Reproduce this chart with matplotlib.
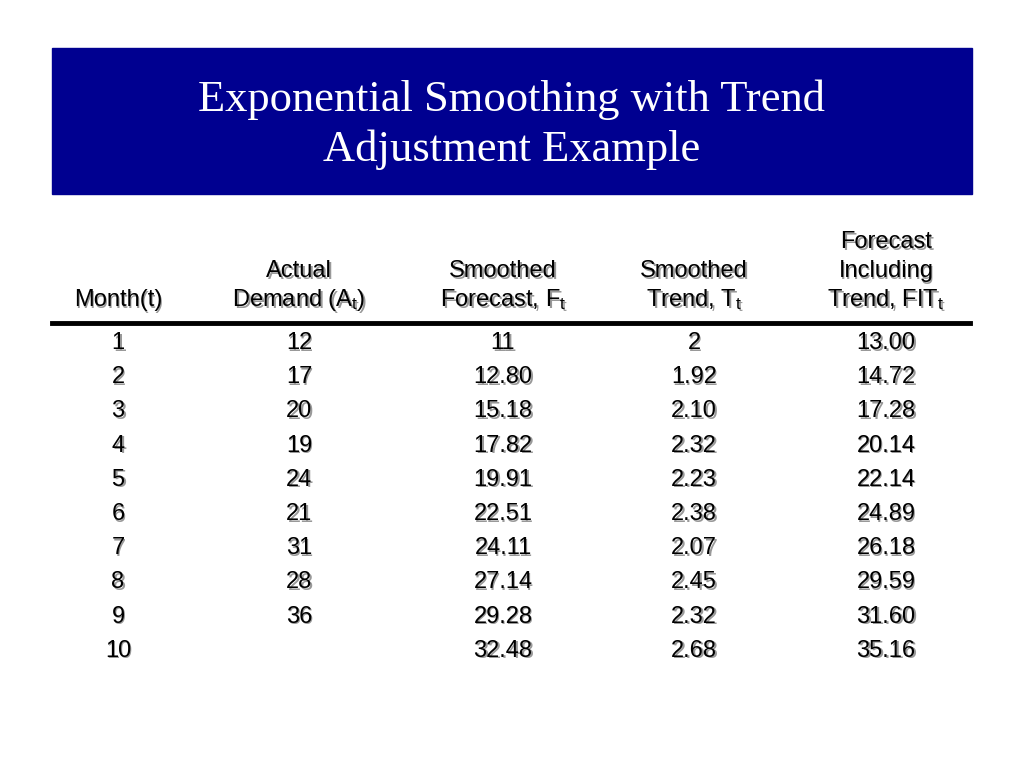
import matplotlib
matplotlib.use("Agg")
import matplotlib.pyplot as plt
from matplotlib import transforms

plt.rcParams["mathtext.fontset"] = "custom"
plt.rcParams["mathtext.rm"] = "Liberation Sans"
plt.rcParams["mathtext.it"] = "Liberation Sans"

title = "Exponential Smoothing with Trend\nAdjustment Example"
headers = [
    ["Month(t)"],
    ["Actual", r"Demand (A$_\mathregular{t}$)"],
    ["Smoothed", r"Forecast, F$_\mathregular{t}$"],
    ["Smoothed", r"Trend, T$_\mathregular{t}$"],
    ["Forecast", "Including", r"Trend, FIT$_\mathregular{t}$"],
]
month = ["1", "2", "3", "4", "5", "6", "7", "8", "9", "10"]
demand = ["12", "17", "20", "19", "24", "21", "31", "28", "36", ""]
forecast = ["11", "12.80", "15.18", "17.82", "19.91", "22.51", "24.11", "27.14", "29.28", "32.48"]
trend = ["2", "1.92", "2.10", "2.32", "2.23", "2.38", "2.07", "2.45", "2.32", "2.68"]
fit = ["13.00", "14.72", "17.28", "20.14", "22.14", "24.89", "26.18", "29.59", "31.60", "35.16"]
columns = [month, demand, forecast, trend, fit]

col_x = [118, 299, 503, 694, 886]

fig = plt.figure(figsize=(10.24, 7.68), dpi=100)
ax = fig.add_axes([0, 0, 1, 1])
ax.set_xlim(0, 1024)
ax.set_ylim(768, 0)
ax.axis("off")

# title box
ax.add_patch(plt.Rectangle((52, 48), 920, 146, color="#000090"))
ax.text(512, 125, title, ha="center", va="center", color="white",
        fontsize=32, family="Liberation Serif", linespacing=1.3)

shadow = transforms.offset_copy(ax.transData, fig=fig, x=1.2, y=-1.2, units="points")


def cell(x, y, s):
    ax.text(x, y, s, ha="center", va="center", fontsize=17, color="#999999",
            family="Liberation Sans", transform=shadow)
    ax.text(x, y, s, ha="center", va="center", fontsize=17, color="black",
            family="Liberation Sans")


for x, lines in zip(col_x, headers):
    for i, s in enumerate(reversed(lines)):
        cell(x, 300 - i * 29, s)

ax.plot([52, 970], [323, 323], color="black", lw=3.5)

for x, vals in zip(col_x, columns):
    for i, s in enumerate(vals):
        cell(x, 343 + i * 34.2, s)

fig.savefig("out.png", dpi=100)
